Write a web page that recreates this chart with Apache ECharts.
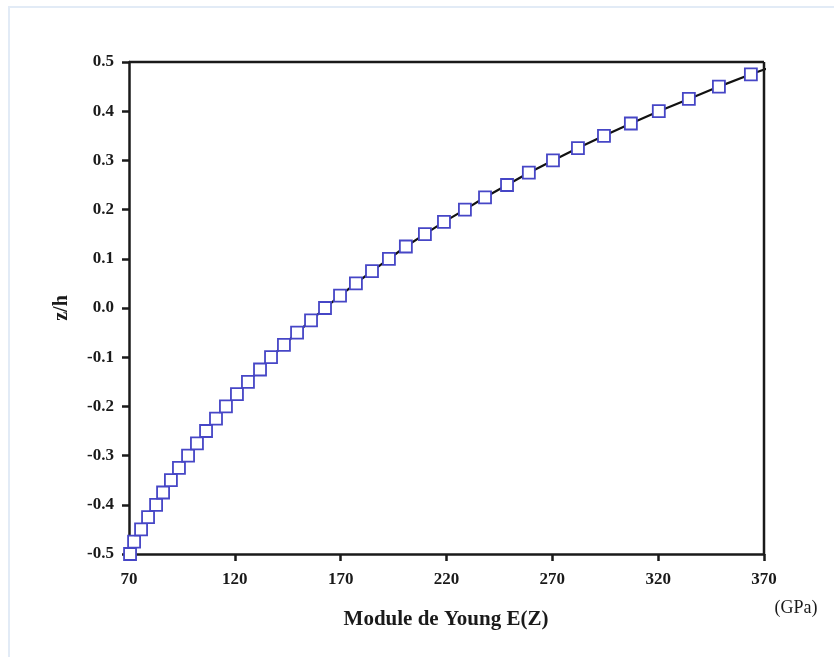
<!DOCTYPE html>
<html>
<head>
<meta charset="utf-8">
<script src="https://cdn.jsdelivr.net/npm/echarts@6/dist/echarts.min.js"></script>
<style>
html,body{margin:0;padding:0;background:#fff;}
#frame{position:absolute;left:8px;top:6px;width:826px;height:651px;border-top:2px solid #e2ebf6;border-left:2px solid #e2ebf6;box-sizing:border-box;}
#chart{position:absolute;left:0;top:0;width:834px;height:657px;}
</style>
</head>
<body>
<div id="frame"></div>
<div id="chart"></div>
<script>
// z/h values
const zh = [-0.5,-0.475,-0.45,-0.425,-0.4,-0.375,-0.35,-0.325,-0.3,-0.275,-0.25,-0.225,-0.2,-0.175,-0.15,-0.125,-0.1,-0.075,-0.05,-0.025,0,0.025,0.05,0.075,0.1,0.125,0.15,0.175,0.2,0.225,0.25,0.275,0.3,0.325,0.35,0.375,0.4,0.425,0.45,0.475,0.5];
// Young's modulus E(z) in GPa
const youngE = [70.5,72.4,75.7,79.0,82.8,86.1,89.8,93.6,97.9,102.1,106.4,111.1,115.8,121.0,126.2,131.9,137.1,143.2,149.4,156.0,162.6,169.7,177.2,184.8,192.8,200.8,209.8,218.8,228.7,238.2,248.6,258.9,270.3,282.1,294.4,307.1,320.3,334.5,348.7,363.8,380];
const xTicks = [70,120,170,220,270,320,370];
const yTicks = [-0.5,-0.4,-0.3,-0.2,-0.1,0.0,0.1,0.2,0.3,0.4,0.5];

const chart = echarts.init(document.getElementById('chart'));
const font = 'Liberation Serif';
const pts = youngE.map((e,i)=>[e, zh[i]]);
chart.setOption({
  animation:false,
  backgroundColor:'transparent',
  grid:{left:129,right:70,top:62,bottom:103,show:false},
  xAxis:{
    type:'value',min:xTicks[0],max:xTicks[xTicks.length-1],interval:50,
    axisLine:{show:true,onZero:false,lineStyle:{color:'#1a1a1a',width:2.5}},
    axisTick:{show:true,length:7,lineStyle:{color:'#1a1a1a',width:2.5}},
    axisLabel:{fontFamily:font,fontWeight:'bold',fontSize:17,color:'#1a1a1a',margin:17},
    splitLine:{show:false}
  },
  yAxis:{
    type:'value',min:yTicks[0],max:yTicks[yTicks.length-1],interval:0.1,
    axisLine:{show:true,onZero:false,lineStyle:{color:'#1a1a1a',width:2.5}},
    axisTick:{show:true,length:7,lineStyle:{color:'#1a1a1a',width:2.5}},
    axisLabel:{fontFamily:font,fontWeight:'bold',fontSize:17,color:'#1a1a1a',margin:15,
      formatter:v=>v.toFixed(1)},
    splitLine:{show:false}
  },
  graphic:[
    {type:'line',shape:{x1:129,y1:62,x2:764,y2:62},style:{stroke:'#1a1a1a',lineWidth:2.5},z:10},
    {type:'line',shape:{x1:764,y1:62,x2:764,y2:554},style:{stroke:'#1a1a1a',lineWidth:2.5},z:10},
    {type:'text',x:446,y:620,style:{text:'Module de Young E(Z)',font:'bold 21px "Liberation Serif"',fill:'#1a1a1a',textAlign:'center',textVerticalAlign:'middle'}},
    {type:'text',x:796,y:608,style:{text:'(GPa)',font:'18px "Liberation Serif"',fill:'#1a1a1a',textAlign:'center',textVerticalAlign:'middle'}},
    {type:'text',x:62,y:308,rotation:Math.PI/2,style:{text:'z/h',font:'bold 20px "Liberation Serif"',fill:'#1a1a1a',textAlign:'center',textVerticalAlign:'middle'}}
  ],
  series:[{
    type:'line',data:pts,clip:true,
    lineStyle:{color:'#111',width:2.2},
    symbol:'rect',symbolSize:12,
    itemStyle:{color:'#fff',borderColor:'#4646c6',borderWidth:1.8},
    z:3
  }]
});
</script>
</body>
</html>
